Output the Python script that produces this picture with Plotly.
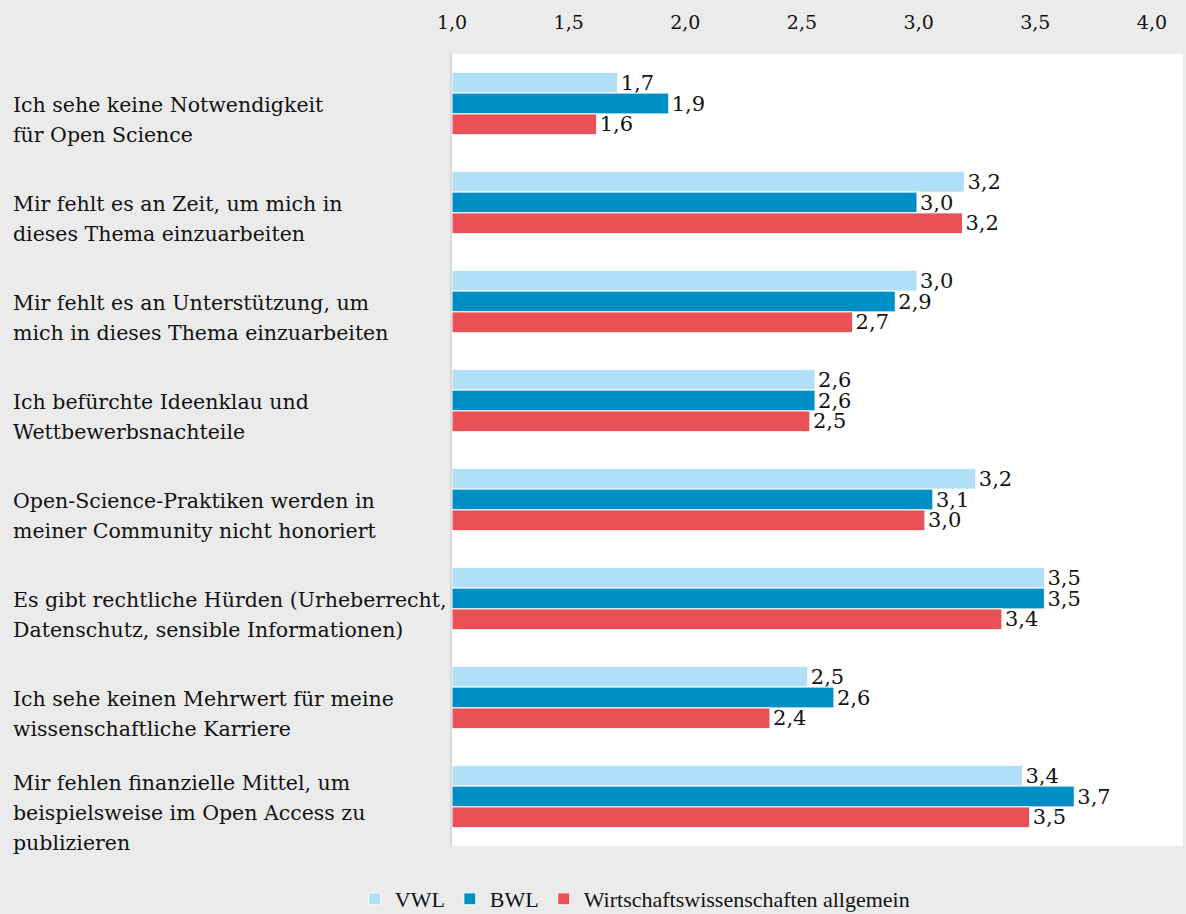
import plotly.graph_objects as go

categories = [
    "Ich sehe keine Notwendigkeit<br>für Open Science",
    "Mir fehlt es an Zeit, um mich in<br>dieses Thema einzuarbeiten",
    "Mir fehlt es an Unterstützung, um<br>mich in dieses Thema einzuarbeiten",
    "Ich befürchte Ideenklau und<br>Wettbewerbsnachteile",
    "Open-Science-Praktiken werden in<br>meiner Community nicht honoriert",
    "Es gibt rechtliche Hürden (Urheberrecht,<br>Datenschutz, sensible Informationen)",
    "Ich sehe keinen Mehrwert für meine<br>wissenschaftliche Karriere",
    "Mir fehlen finanzielle Mittel, um<br>beispielsweise im Open Access zu<br>publizieren",
]
series_names = ["VWL", "BWL", "Wirtschaftswissenschaften allgemein"]
vwl = [1.710, 3.196, 2.993, 2.556, 3.245, 3.539, 2.525, 3.445]
bwl = [1.929, 2.993, 2.900, 2.556, 3.061, 3.539, 2.637, 3.667]
allg = [1.620, 3.188, 2.717, 2.534, 3.027, 3.357, 2.363, 3.476]
tick_vals = [1.0, 1.5, 2.0, 2.5, 3.0, 3.5, 4.0]
tick_text = ["1,0", "1,5", "2,0", "2,5", "3,0", "3,5", "4,0"]

colors = ["#b1dff7", "#008fc4", "#ea5157"]
FONT = "DejaVu Serif"
LEGEND_FONT = "Liberation Serif"

def fmt(v):
    return f"{v:.1f}".replace(".", ",")

ids = list(range(len(categories)))

fig = go.Figure()
for name, vals, col in zip(series_names, [vwl, bwl, allg], colors):
    fig.add_trace(go.Bar(
        y=ids, x=[v - 1.0 for v in vals], base=1.0, orientation="h", name=name,
        marker=dict(color=col, line=dict(color="white", width=1)),
        text=[fmt(v) for v in vals], textposition="outside",
        constraintext="none",
        textfont=dict(family=FONT, size=21, color="#111111"),
        cliponaxis=False,
    ))

LINE_H = 30
for i, c in enumerate(categories):
    lines = c.split("<br>")
    n = len(lines)
    for k, line in enumerate(lines):
        offset = 16 + (k - (n - 1) / 2) * LINE_H  # pixels below group centre
        fig.add_annotation(
            x=0, xref="paper", xanchor="left", xshift=-441,
            y=i, yref="y", yanchor="middle", yshift=-offset,
            text=line, showarrow=False, align="left",
            font=dict(family=FONT, size=20.5, color="#111111"),
        )

fig.update_layout(
    width=1186, height=914,
    margin=dict(l=452, r=3, t=54, b=68, autoexpand=False),
    paper_bgcolor="#ebebeb", plot_bgcolor="white",
    barmode="group", bargap=0.37, bargroupgap=0,
    showlegend=True,
    legend=dict(orientation="h", x=0.25, xanchor="center", y=-0.067, yanchor="middle",
                font=dict(family=LEGEND_FONT, size=22, color="#111111"),
                traceorder="normal", itemwidth=30, bgcolor="rgba(0,0,0,0)"),
    font=dict(family=FONT),
)
fig.update_xaxes(side="top", range=[1.0, 4.133], tickvals=tick_vals, ticktext=tick_text,
                 showgrid=False, zeroline=False, showline=False,
                 ticks="outside", ticklen=16, tickcolor="rgba(0,0,0,0)",
                 tickfont=dict(family=FONT, size=19, color="#111111"))
fig.update_yaxes(autorange="reversed", showticklabels=False, showgrid=False, zeroline=False,
                 showline=True, linecolor="#d9d9d9", linewidth=2, ticks="")

fig.write_html("out.html", config={"displayModeBar": False},
               post_script=["document.body.style.margin='0px';"])
